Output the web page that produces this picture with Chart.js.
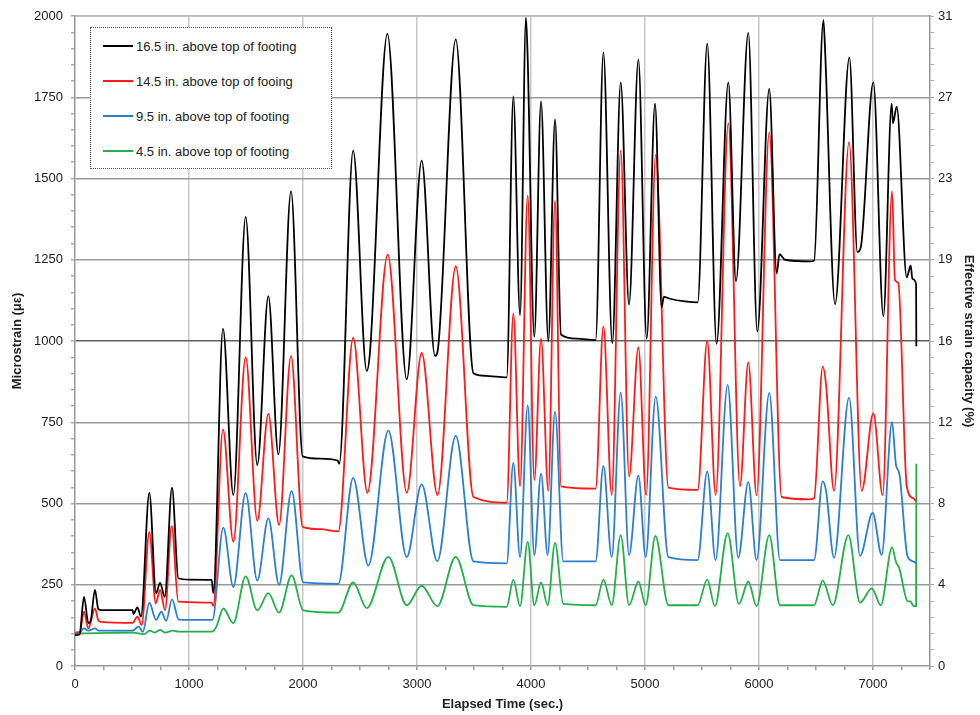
<!DOCTYPE html>
<html>
<head>
<meta charset="utf-8">
<script src="https://cdn.jsdelivr.net/npm/chart.js@4.4.1/dist/chart.umd.min.js"></script>
<style>
  body { margin: 0; background: #fff; }
  #wrap { position: relative; width: 980px; height: 715px; }
  #legend {
    position: absolute; left: 90px; top: 27px; width: 240px; height: 140px;
    border: 1px dotted #555; background: #fff;
    font: 13px 'Liberation Sans', Arial, sans-serif; color: #222;
  }
  .row { position: absolute; left: 12px; height: 16px; display: flex; align-items: center; white-space: nowrap; }
  .swatch { display: inline-block; width: 30px; height: 2px; margin-right: 3px; }
</style>
</head>
<body>
<div id="wrap">
  <canvas id="chart" width="980" height="715"></canvas>
  <div id="legend"></div>
</div>
<script>
// 16.5 in. gauge
const blackTime = [0, 40, 79, 117, 137, 175, 205, 230, 506, 512, 547, 579, 652, 711, 746, 787, 851, 906, 1000, 1199, 1213, 1298, 1389, 1497, 1599, 1696, 1784, 1895, 1997, 2150, 2305, 2318, 2440, 2559, 2588, 2740, 2910, 3041, 3158, 3180, 3340, 3495, 3600, 3787, 3845, 3904, 3956, 3971, 4029, 4088, 4152, 4211, 4263, 4400, 4567, 4635, 4713, 4787, 4860, 4942, 5015, 5088, 5146, 5165, 5219, 5350, 5462, 5546, 5628, 5731, 5798, 5906, 5985, 6090, 6155, 6180, 6228, 6447, 6483, 6565, 6579, 6667, 6793, 6863, 6892, 7003, 7091, 7164, 7175, 7208, 7296, 7331, 7345, 7378, 7380];
const blackStrain = [95, 97, 213, 132, 138, 234, 175, 172, 172, 160, 180, 152, 533, 224, 256, 213, 549, 270, 266, 265, 224, 1038, 526, 1382, 618, 1138, 651, 1461, 645, 638, 632, 622, 1586, 908, 967, 1945, 882, 1555, 954, 967, 1928, 901, 893, 888, 1753, 1079, 1995, 1869, 1013, 1737, 1000, 1682, 1020, 1007, 1003, 1888, 993, 1796, 1112, 1866, 1007, 1730, 1103, 1136, 1130, 1122, 1119, 1915, 991, 1796, 1184, 1948, 1030, 1776, 1208, 1267, 1250, 1245, 1247, 1987, 1901, 1113, 1873, 1274, 1287, 1796, 1076, 1730, 1670, 1721, 1196, 1233, 1191, 1175, 984];

// 14.5 in. gauge
const redTime = [0, 40, 79, 117, 175, 205, 230, 506, 547, 585, 652, 708, 746, 790, 848, 906, 1199, 1213, 1298, 1389, 1497, 1599, 1696, 1790, 1895, 1997, 2150, 2310, 2440, 2565, 2743, 2910, 3041, 3180, 3340, 3495, 3787, 3845, 3904, 3971, 4029, 4088, 4152, 4211, 4263, 4567, 4635, 4708, 4787, 4860, 4942, 5010, 5094, 5205, 5462, 5546, 5620, 5731, 5833, 5906, 5979, 6090, 6198, 6447, 6483, 6559, 6588, 6658, 6790, 6901, 7003, 7085, 7167, 7193, 7222, 7296, 7354, 7380];
const redStrain = [100, 102, 167, 116, 177, 140, 136, 133, 152, 126, 413, 193, 234, 172, 431, 198, 195, 185, 728, 382, 950, 447, 776, 434, 954, 428, 421, 414, 1010, 533, 1266, 533, 963, 526, 1230, 520, 503, 1085, 553, 1448, 572, 1007, 539, 1432, 553, 546, 1045, 526, 1586, 583, 980, 526, 1573, 549, 542, 1000, 526, 1670, 553, 934, 526, 1642, 520, 513, 516, 921, 866, 539, 1612, 539, 777, 526, 1461, 1187, 1178, 553, 516, 507];

// 9.5 in. gauge
const blueTime = [0, 45, 79, 117, 175, 205, 506, 558, 595, 652, 711, 757, 800, 851, 910, 1205, 1301, 1389, 1497, 1599, 1696, 1790, 1900, 2002, 2310, 2440, 2573, 2749, 2910, 3041, 3178, 3340, 3495, 3787, 3845, 3904, 3971, 4029, 4088, 4146, 4211, 4283, 4567, 4635, 4708, 4787, 4860, 4942, 5006, 5094, 5205, 5462, 5546, 5619, 5725, 5818, 5906, 5979, 6090, 6184, 6483, 6559, 6588, 6658, 6790, 6886, 6997, 7076, 7167, 7202, 7231, 7302, 7354, 7380];
const blueStrain = [103, 105, 116, 109, 116, 109, 109, 121, 105, 195, 142, 167, 139, 205, 143, 142, 426, 243, 533, 263, 454, 250, 539, 257, 253, 579, 309, 724, 335, 559, 322, 708, 322, 316, 625, 335, 803, 341, 592, 341, 783, 322, 322, 616, 335, 842, 341, 586, 335, 829, 335, 326, 599, 326, 865, 333, 566, 326, 840, 326, 326, 568, 539, 333, 826, 339, 471, 342, 750, 618, 592, 339, 322, 316];

// 4.5 in. gauge
const greenTime = [0, 300, 506, 608, 655, 700, 746, 790, 857, 910, 1205, 1240, 1301, 1389, 1497, 1599, 1696, 1790, 1900, 2002, 2310, 2440, 2559, 2749, 2910, 3041, 3178, 3340, 3495, 3787, 3845, 3904, 3971, 4029, 4088, 4146, 4211, 4283, 4567, 4635, 4708, 4787, 4860, 4942, 5006, 5091, 5205, 5462, 5546, 5613, 5725, 5824, 5906, 5979, 6090, 6184, 6483, 6559, 6647, 6784, 6886, 6989, 7068, 7167, 7202, 7231, 7302, 7331, 7354, 7378, 7380];
const greenStrain = [100, 102, 103, 98, 109, 103, 111, 103, 109, 106, 106, 121, 177, 132, 276, 171, 224, 164, 279, 171, 164, 257, 178, 336, 187, 247, 184, 336, 187, 182, 266, 184, 382, 187, 257, 187, 379, 191, 187, 266, 187, 403, 187, 260, 187, 400, 187, 187, 266, 184, 409, 191, 260, 184, 403, 187, 187, 263, 187, 403, 195, 239, 187, 365, 320, 300, 200, 198, 184, 184, 622];

const seriesLabels = ['16.5 in. above top of footing', '14.5 in. above top of fooing', '9.5 in. above top of footing', '4.5 in. above top of footing'];
const seriesColors = ['#000000', '#ff1a1a', '#2a7fd0', '#22b04c'];

const leftTicks = [0, 250, 500, 750, 1000, 1250, 1500, 1750, 2000];
const rightTickLabels = ['0', '4', '8', '12', '16', '19', '23', '27', '31'];
const xTicks = [0, 1000, 2000, 3000, 4000, 5000, 6000, 7000];

const pts = (t, v) => t.map((x, i) => ({ x: x, y: v[i] }));
const series = [
  pts(blackTime, blackStrain),
  pts(redTime, redStrain),
  pts(blueTime, blueStrain),
  pts(greenTime, greenStrain)
];

Chart.defaults.font.family = "'Liberation Sans', Arial, sans-serif";
Chart.defaults.font.size = 13;
Chart.defaults.color = '#222';

const hidden = 'rgba(0,0,0,0)';

new Chart(document.getElementById('chart'), {
  type: 'line',
  data: {
    datasets: series.map((d, i) => ({
      label: seriesLabels[i],
      data: d,
      borderColor: seriesColors[i],
      borderWidth: 1.8,
      pointRadius: 0,
      fill: false,
      cubicInterpolationMode: 'monotone'
    }))
  },
  options: {
    responsive: false,
    animation: false,
    layout: { padding: 0 },
    plugins: { legend: { display: false }, tooltip: { enabled: false } },
    scales: {
      x: {
        type: 'linear', position: 'bottom', min: 0, max: 7500,
        ticks: { stepSize: 250, autoSkip: false, maxRotation: 0, padding: 7,
                 callback: v => xTicks.includes(v) ? String(v) : '' },
        grid: { color: c => (c.tick && xTicks.includes(c.tick.value) && c.tick.value > 0) ? '#c8c8c8' : hidden,
                lineWidth: 1.5, tickLength: 4, tickColor: '#999' },
        border: { color: '#999', width: 1.5 },
        title: { display: true, text: 'Elapsed Time (sec.)', font: { weight: 'bold', size: 13 }, padding: { top: 0, bottom: 3 } },
        afterFit: s => { s.height = 49; }
      },
      x2: {
        type: 'linear', position: 'top', min: 0, max: 7500,
        ticks: { display: false },
        grid: { drawOnChartArea: false, drawTicks: false },
        border: { color: '#bbb', width: 1.5 },
        afterFit: s => { s.height = 16; }
      },
      y: {
        position: 'left', min: 0, max: 2000,
        ticks: { stepSize: 50, autoSkip: false, padding: 8,
                 callback: v => leftTicks.includes(v) ? String(v) : '' },
        grid: { color: c => (c.tick && leftTicks.includes(c.tick.value) && c.tick.value > 0) ? (c.tick.value === 1000 ? '#606060' : '#9a9a9a') : hidden,
                lineWidth: 1.5, tickLength: 4, tickColor: '#aaa' },
        border: { color: '#999', width: 1.5 },
        title: { display: true, text: 'Microstrain (με)', font: { weight: 'bold', size: 13 }, padding: { top: 10, bottom: 0 } },
        afterFit: s => { s.width = 75; }
      },
      y2: {
        position: 'right', min: 0, max: 2000,
        ticks: { stepSize: 50, autoSkip: false, padding: 4,
                 callback: v => { const k = leftTicks.indexOf(v); return k >= 0 ? rightTickLabels[k] : ''; } },
        grid: { drawOnChartArea: false, tickLength: 4, tickColor: '#aaa' },
        border: { color: '#999', width: 1.5 },
        title: { display: true, text: 'Effective strain capacity (%)', font: { weight: 'bold', size: 13 }, padding: { top: 4, bottom: 0 } },
        afterFit: s => { s.width = 50; }
      }
    }
  }
});

// legend box drawn as html, inside the plot
const legend = document.getElementById('legend');
seriesLabels.forEach((lab, i) => {
  const row = document.createElement('div');
  row.className = 'row';
  row.style.top = (10 + i * 35) + 'px';
  const sw = document.createElement('span');
  sw.className = 'swatch';
  sw.style.backgroundColor = seriesColors[i];
  const tx = document.createElement('span');
  tx.textContent = lab;
  row.appendChild(sw);
  row.appendChild(tx);
  legend.appendChild(row);
});
</script>
</body>
</html>
